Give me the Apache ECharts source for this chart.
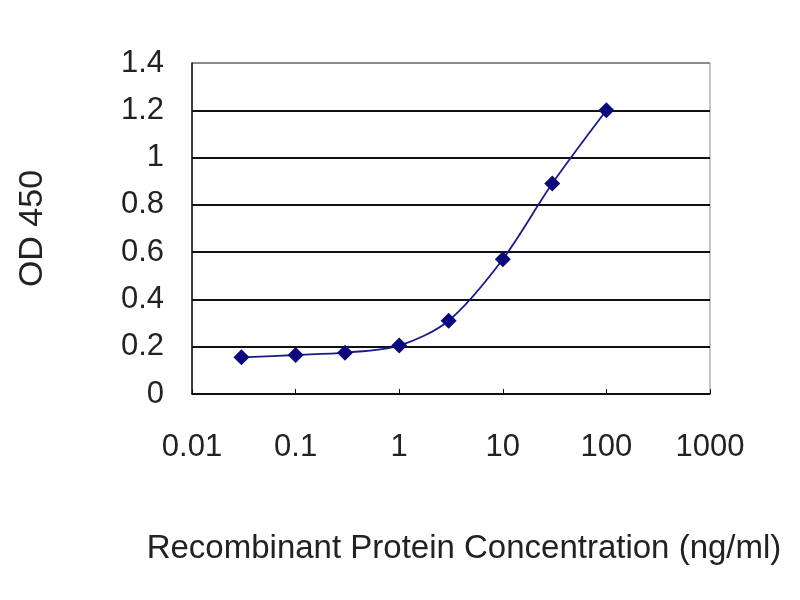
<!DOCTYPE html>
<html>
<head>
    <meta charset="UTF-8"/>
    <script src="https://cdn.jsdelivr.net/npm/echarts@6/dist/echarts.min.js"></script>
    <title>OD 450</title>
    <style>
        html, body { margin: 0; padding: 0; background: #fff; }
        #chart { width: 800px; height: 600px; }
    </style>
</head>
<body>
<div id="chart"></div>
<script>
    // concentration (ng/ml) and OD 450
    var concentration = [0.03, 0.1, 0.3, 1, 3, 10, 30, 100];
    var od450 = [0.155, 0.165, 0.175, 0.205, 0.31, 0.57, 0.89, 1.2];
    var xTicks = [0.01, 0.1, 1, 10, 100, 1000];
    var yTicks = [0, 0.2, 0.4, 0.6, 0.8, 1, 1.2, 1.4];

    var points = [];
    for (var i = 0; i < concentration.length; i++) {
        points.push([concentration[i], od450[i]]);
    }

    // gridlines black, the top one grey like the frame
    var gridColors = yTicks.map(function (v, i) {
        return i === yTicks.length - 1 ? '#8a8a8a' : '#111';
    });

    var font = 'Liberation Sans, Arial, sans-serif';
    var chart = echarts.init(document.getElementById('chart'));
    chart.setOption({
        animation: false,
        backgroundColor: '#fff',
        grid: {
            left: 192, right: 90, top: 63, bottom: 206,
            show: true, borderColor: '#8a8a8a', borderWidth: 1
        },
        xAxis: {
            type: 'log',
            logBase: 10,
            min: xTicks[0],
            max: xTicks[xTicks.length - 1],
            name: 'Recombinant Protein Concentration (ng/ml)',
            nameLocation: 'middle',
            nameGap: 138,
            nameTextStyle: { fontFamily: font, fontSize: 33, color: '#222', padding: [0, 0, 0, 26] },
            axisLine: { lineStyle: { color: '#111', width: 1.5 } },
            axisTick: { inside: true, length: 5, lineStyle: { color: '#111' } },
            splitLine: { show: false },
            axisLabel: {
                margin: 38,
                fontFamily: font, fontSize: 31, color: '#222',
                formatter: function (v) { return String(+v.toPrecision(3)); }
            }
        },
        yAxis: {
            type: 'value',
            min: yTicks[0],
            max: yTicks[yTicks.length - 1],
            interval: 0.2,
            name: 'OD 450',
            nameLocation: 'middle',
            nameGap: 142,
            nameTextStyle: { fontFamily: font, fontSize: 34, color: '#222' },
            axisLine: { show: true, lineStyle: { color: '#111', width: 1.5 } },
            axisTick: { show: false },
            splitLine: { lineStyle: { color: gridColors, width: 2 } },
            axisLabel: {
                margin: 28,
                fontFamily: font, fontSize: 31, color: '#222',
                formatter: function (v) { return String(+v.toFixed(1)); }
            }
        },
        series: [{
            type: 'line',
            data: points,
            smooth: 0.3,
            symbol: 'diamond',
            symbolSize: 16,
            itemStyle: { color: '#0a0a7a' },
            lineStyle: { color: '#1a1a8a', width: 1.8 }
        }]
    });
</script>
</body>
</html>
